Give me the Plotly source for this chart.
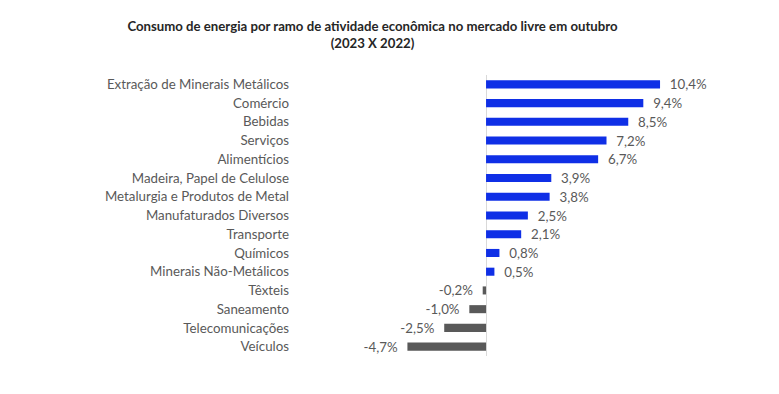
import plotly.graph_objects as go

categories = ["Extração de Minerais Metálicos", "Comércio", "Bebidas", "Serviços", "Alimentícios",
              "Madeira, Papel de Celulose", "Metalurgia e Produtos de Metal", "Manufaturados Diversos",
              "Transporte", "Químicos", "Minerais Não-Metálicos", "Têxteis", "Saneamento",
              "Telecomunicações", "Veículos"]
values = [10.4, 9.4, 8.5, 7.2, 6.7, 3.9, 3.8, 2.5, 2.1, 0.8, 0.5, -0.2, -1.0, -2.5, -4.7]

pad = "\u00a0\u00a0"
labels = [(pad + ("%.1f%%" % v).replace(".", ",")) if v >= 0 else (("%.1f%%" % v).replace(".", ",") + pad)
          for v in values]

colors = ["#0f2fe6" if v >= 0 else "#595959" for v in values]
font_family = "Lato, 'Open Sans', sans-serif"

fig = go.Figure(go.Bar(
    x=values, y=categories, orientation="h",
    marker=dict(color=colors, line=dict(width=0)),
    text=labels, textposition="outside", cliponaxis=False, constraintext="none",
    textfont=dict(color="#595959", size=13.3, family=font_family),
    width=0.43,
))

fig.update_layout(
    width=779, height=394,
    margin=dict(l=288, r=48, t=67, b=46),
    paper_bgcolor="white", plot_bgcolor="white",
    showlegend=False,
    font=dict(family=font_family, size=13.3, color="#595959"),
    title=dict(
        text="<b>Consumo de energia por ramo de atividade econômica no mercado livre em outubro<br>(2023 X 2022)</b>",
        x=364.5/779, xanchor="center", xref="container",
        y=1 - 22.5/394, yanchor="middle", yref="container",
        font=dict(size=13.2, color="#262626", family=font_family),
    ),
    xaxis=dict(range=[-11.36, 15.12], showgrid=False, showticklabels=False, ticks="",
               zeroline=True, zerolinecolor="#d9d9d9", zerolinewidth=1, fixedrange=True),
    yaxis=dict(autorange="reversed", showgrid=False, ticks="", ticklabelstandoff=6,
               tickfont=dict(size=13.3, color="#595959", family=font_family)),
    bargap=0.57,
)

fig.write_html("out.html")
